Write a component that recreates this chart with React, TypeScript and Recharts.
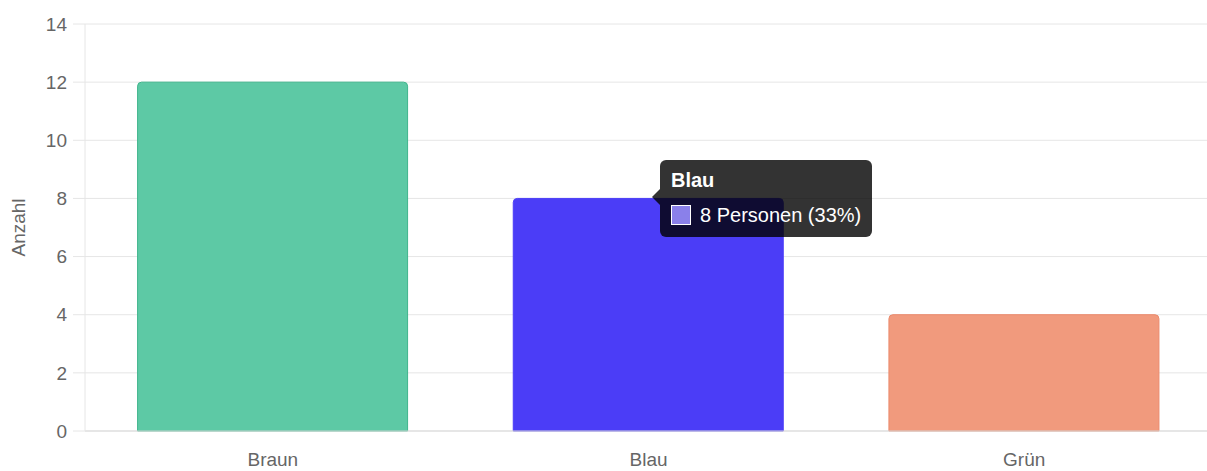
import { BarChart, Bar, XAxis, YAxis, CartesianGrid, Tooltip, Cell } from 'recharts';

const categories = ['Braun', 'Blau', 'Grün'];
const counts = [12, 8, 4];
const fills = ['#5dc9a5', '#4b3df7', '#f19a7d'];
const borders = ['#3fb58c', '#4b3df7', '#ea8a6c'];
const tooltipSwatch = '#8a80ea';
const yTicks = [0, 2, 4, 6, 8, 10, 12, 14];

const data = categories.map((name, i) => ({ name, value: counts[i] }));
const total = counts.reduce((a, b) => a + b, 0);

const font = '"Liberation Sans", Arial, Helvetica, sans-serif';

const TipBox = ({ active, payload }: any) => {
  if (!active || !payload || !payload.length) return null;
  const item = payload[0].payload;
  const pct = Math.round((item.value / total) * 100);
  return (
    <div style={{ position: 'relative', paddingLeft: 8, fontFamily: font }}>
      {/* caret */}
      <div
        style={{
          position: 'absolute',
          left: 0,
          top: 29,
          width: 0,
          height: 0,
          borderTop: '8px solid transparent',
          borderBottom: '8px solid transparent',
          borderRight: '8px solid rgba(0,0,0,0.8)',
        }}
      />
      <div
        style={{
          background: 'rgba(0,0,0,0.8)',
          borderRadius: 6,
          padding: '9px 10px 11px 11px',
          color: '#fff',
          width: 191,
          boxSizing: 'content-box',
        }}
      >
        <div style={{ fontWeight: 'bold', fontSize: 20, lineHeight: '22px' }}>{item.name}</div>
        <div style={{ display: 'flex', alignItems: 'center', marginTop: 13, fontSize: 20, lineHeight: '22px', whiteSpace: 'nowrap' }}>
          <span
            style={{
              display: 'inline-block',
              width: 18,
              height: 18,
              background: tooltipSwatch,
              border: '1px solid #fff',
              marginRight: 9,
              flexShrink: 0,
            }}
          />
          <span>{`${item.value} Personen (${pct}%)`}</span>
        </div>
      </div>
    </div>
  );
};

export default function App() {
  return (
    <div style={{ position: 'absolute', left: 0, top: 0, width: 1207, height: 471, overflow: 'hidden', background: '#fff' }}>
      <BarChart
        width={1213}
        height={471}
        data={data}
        margin={{ top: 24, right: 1, left: 0, bottom: 10 }}
        barCategoryGap="14%"
      >
        <CartesianGrid vertical={false} stroke="#e6e6e6" />
        <XAxis
          dataKey="name"
          height={30}
          tickLine={false}
          axisLine={{ stroke: '#d9d9d9' }}
          tickMargin={16}
          tick={{ fill: '#666', fontSize: 19, fontFamily: font }}
        />
        <YAxis
          width={85}
          domain={[0, 14]}
          ticks={yTicks}
          interval={0}
          tickSize={12}
          tickMargin={6}
          tickLine={{ stroke: '#e6e6e6' }}
          axisLine={{ stroke: '#e6e6e6' }}
          tick={{ fill: '#666', fontSize: 19, fontFamily: font }}
          label={{
            value: 'Anzahl',
            angle: -90,
            position: 'insideLeft',
            offset: 18,
            style: { fill: '#666', fontSize: 19, fontFamily: font, textAnchor: 'middle' },
          }}
        />
        <Tooltip
          content={<TipBox />}
          active={true}
          defaultIndex={1}
          cursor={false}
          position={{ x: 652, y: 160 }}
          isAnimationActive={false}
          wrapperStyle={{ outline: 'none' }}
        />
        <Bar dataKey="value" radius={[4, 4, 0, 0]} isAnimationActive={false}>
          {data.map((d, i) => (
            <Cell key={d.name} fill={fills[i]} stroke={borders[i]} strokeWidth={1} />
          ))}
        </Bar>
      </BarChart>
    </div>
  );
}
